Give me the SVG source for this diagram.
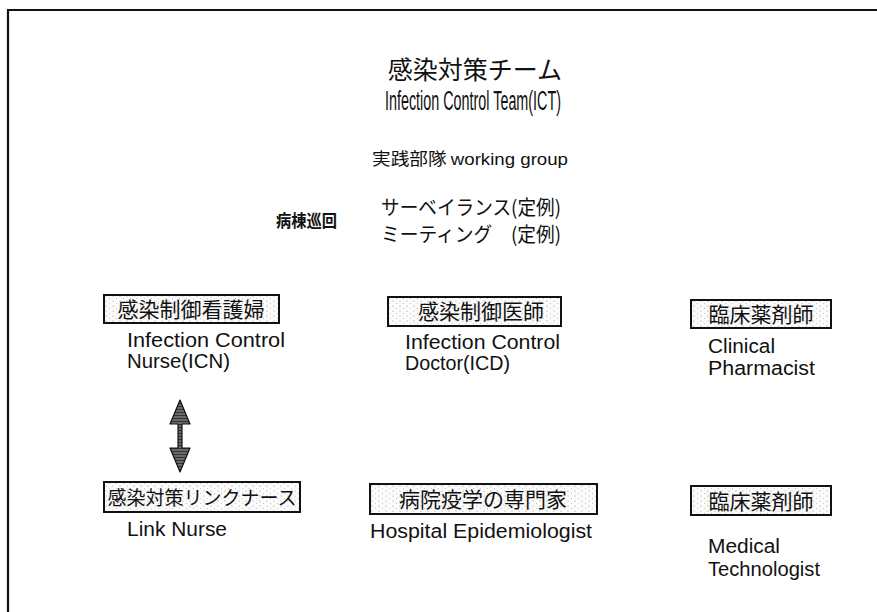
<svg xmlns="http://www.w3.org/2000/svg" width="877" height="612" viewBox="0 0 877 612">
<defs>
<pattern id="stipple" width="7" height="5" patternUnits="userSpaceOnUse">
<rect width="7" height="5" fill="#fbfbfb"/>
<circle cx="1" cy="1" r="0.6" fill="#9a9a9a"/>
<circle cx="4.5" cy="3.5" r="0.5" fill="#b5b5b5"/>
</pattern>
<pattern id="hatch" width="3" height="3" patternUnits="userSpaceOnUse">
<rect width="3" height="3" fill="#6a6a6a"/>
<path d="M0,1.5 H3" stroke="#333" stroke-width="1"/>
</pattern>
<style>
.jp{font-family:"Noto Sans CJK JP","Noto Sans CJK SC",sans-serif;fill:#111}
.en{font-family:"Liberation Sans",Arial,sans-serif;fill:#111}
.box{fill:url(#stipple);stroke:#111;stroke-width:2}
.frame{fill:none;stroke:#111;stroke-width:2.2}
</style>
</defs>
<rect width="877" height="612" fill="#fff"/>
<path class="frame" d="M8,612 V10 H877"/>

<g id="title">
<text class="jp" x="475" y="79" font-size="25" text-anchor="middle">感染対策チーム</text>
<text class="en" x="385" y="110" font-size="27" textLength="176" lengthAdjust="spacingAndGlyphs">Infection Control Team(ICT)</text>
</g>
<g id="working-group">
<text class="jp" x="372" y="165" font-size="17" textLength="196" lengthAdjust="spacingAndGlyphs">実践部隊 <tspan class="en">working group</tspan></text>
</g>
<g id="rounds">
<text class="jp" x="276" y="227" font-size="17" font-weight="bold" textLength="61" lengthAdjust="spacingAndGlyphs">病棟巡回</text>
<text class="jp" x="381" y="215" font-size="20" textLength="180" lengthAdjust="spacingAndGlyphs">サーベイランス(定例)</text>
<text class="jp" x="381" y="242" font-size="20" textLength="180" lengthAdjust="spacingAndGlyphs">ミーティング　(定例)</text>
</g>

<g id="icn">
<rect class="box" x="104" y="295" width="175" height="28"/>
<text class="jp" x="191" y="317" font-size="21" text-anchor="middle">感染制御看護婦</text>
<text class="en" x="127" y="347" font-size="20" textLength="158" lengthAdjust="spacingAndGlyphs">Infection Control</text>
<text class="en" x="127" y="368" font-size="20" textLength="103" lengthAdjust="spacingAndGlyphs">Nurse(ICN)</text>
</g>
<g id="icd">
<rect class="box" x="388" y="297" width="173" height="29"/>
<text class="jp" x="481" y="319" font-size="21" text-anchor="middle">感染制御医師</text>
<text class="en" x="405" y="349" font-size="20" textLength="155" lengthAdjust="spacingAndGlyphs">Infection Control</text>
<text class="en" x="405" y="370" font-size="20" textLength="105" lengthAdjust="spacingAndGlyphs">Doctor(ICD)</text>
</g>
<g id="pharmacist">
<rect class="box" x="691" y="300" width="140" height="28"/>
<text class="jp" x="761" y="322" font-size="21" text-anchor="middle">臨床薬剤師</text>
<text class="en" x="708" y="353" font-size="20" textLength="67" lengthAdjust="spacingAndGlyphs">Clinical</text>
<text class="en" x="708" y="375" font-size="20" textLength="107" lengthAdjust="spacingAndGlyphs">Pharmacist</text>
</g>
<g id="link-nurse">
<rect class="box" x="104" y="482" width="196" height="30"/>
<text class="jp" x="202" y="505" font-size="19" text-anchor="middle">感染対策リンクナース</text>
<text class="en" x="127" y="536" font-size="20" textLength="100" lengthAdjust="spacingAndGlyphs">Link Nurse</text>
</g>
<g id="epidemiologist">
<rect class="box" x="370" y="484" width="227" height="30"/>
<text class="jp" x="483" y="507" font-size="21" text-anchor="middle">病院疫学の専門家</text>
<text class="en" x="370" y="538" font-size="20" textLength="222" lengthAdjust="spacingAndGlyphs">Hospital Epidemiologist</text>
</g>
<g id="technologist">
<rect class="box" x="691" y="486" width="140" height="29"/>
<text class="jp" x="761" y="509" font-size="21" text-anchor="middle">臨床薬剤師</text>
<text class="en" x="708" y="553" font-size="20" textLength="72" lengthAdjust="spacingAndGlyphs">Medical</text>
<text class="en" x="708" y="576" font-size="20" textLength="112" lengthAdjust="spacingAndGlyphs">Technologist</text>
</g>

<g id="connectors">
<path d="M180,400 L190,424 L182,424 L182,448 L190,448 L180,472 L170,448 L178,448 L178,424 L170,424 Z" fill="url(#hatch)" stroke="#111" stroke-width="1.2" stroke-linejoin="round"/>
</g>
</svg>
